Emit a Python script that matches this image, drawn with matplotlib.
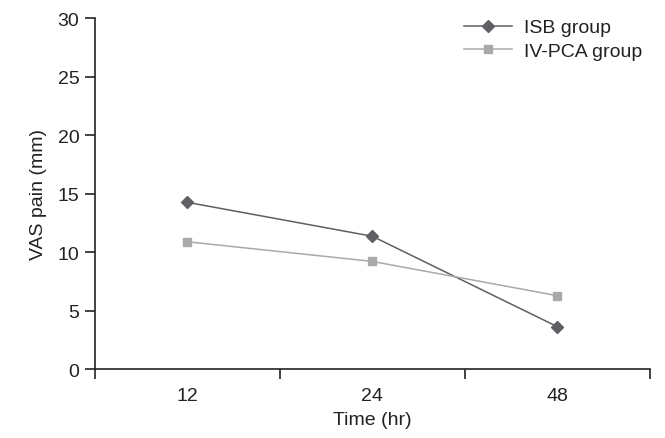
import matplotlib.pyplot as plt
from matplotlib.ticker import FixedLocator

plt.rcParams['font.family'] = ['Liberation Sans', 'DejaVu Sans']

# 数据
times = ['12', '24', '48']
isb = [14.25, 11.35, 3.62]
ivpca = [10.88, 9.2, 6.27]

fig = plt.figure(figsize=(6.65, 4.39), dpi=100)
ax = fig.add_axes([0.1424, 0.157, 0.835, 0.7997])

x = range(len(times))
ax.plot(x, isb, color='#5f5f64', marker='D', markersize=6, linewidth=1.1, label='ISB group')
ax.plot(x, ivpca, color='#a9a9ac', marker='s', markersize=6, linewidth=1.1, label='IV-PCA group')

ax.set_xlim(-0.5, len(times) - 0.5)
ax.set_ylim(0, 30)
ax.set_yticks(range(0, 31, 5))
ax.set_xticks(list(x))
ax.set_xticklabels(times)
ax.xaxis.set_minor_locator(FixedLocator([i - 0.5 for i in range(len(times) + 1)]))
ax.tick_params(axis='x', which='major', length=0, pad=13)
ax.tick_params(axis='x', which='minor', length=7, width=1.2, color='#222222')
ax.tick_params(axis='y', length=7, width=1.2, color='#222222', pad=4)
ax.tick_params(labelsize=14, labelcolor='#222222')

for s in ['top', 'right']:
    ax.spines[s].set_visible(False)
for s in ['left', 'bottom']:
    ax.spines[s].set_linewidth(1.2)
    ax.spines[s].set_color('#222222')

ax.set_xlabel('Time (hr)', fontsize=14, color='#222222', labelpad=5)
ax.set_ylabel('VAS pain (mm)', fontsize=14, color='#222222', labelpad=8)

ax.legend(loc='upper right', bbox_to_anchor=(1.0, 1.02), frameon=False, fontsize=14,
          handlelength=2.5, labelspacing=0.32, handletextpad=0.6, borderaxespad=0,
          labelcolor='#222222')

fig.savefig('out.png', dpi=100)
